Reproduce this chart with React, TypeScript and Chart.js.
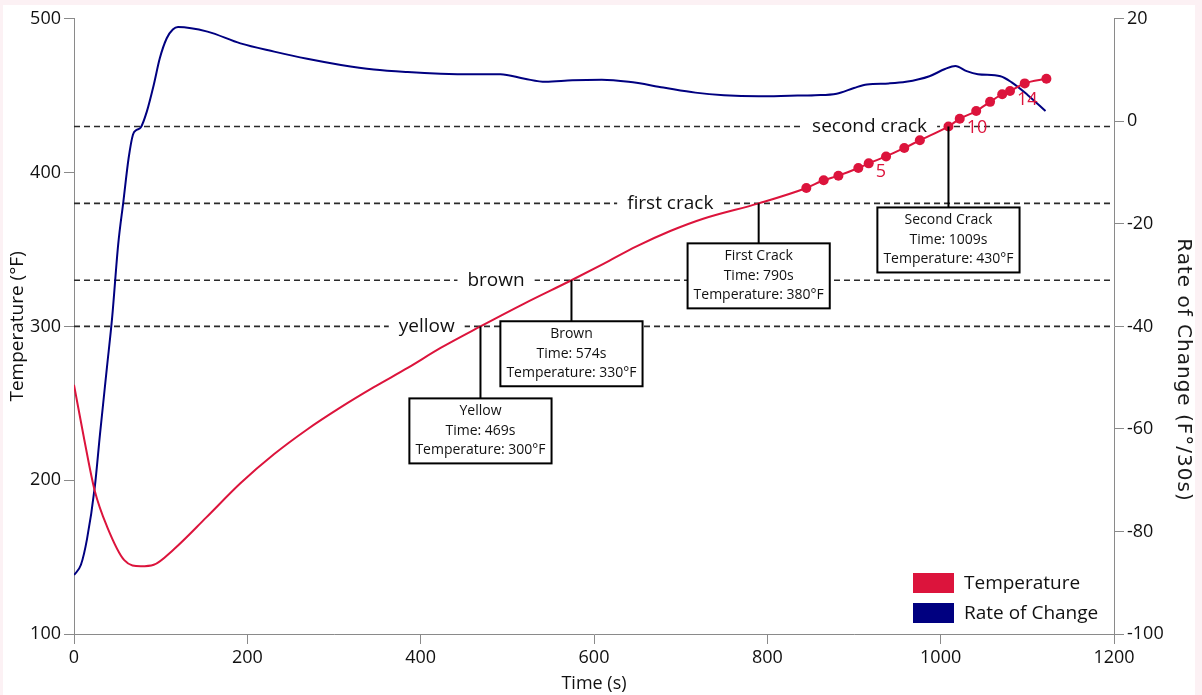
import { useEffect, useRef } from 'react';
import Chart from 'chart.js/auto';

// Bean temperature curve (°F) over roast time (s)
const tempTimes = [0, 12, 24, 38, 58, 77, 92, 115, 153, 192, 231, 269, 308, 346, 385, 423, 469, 520, 574, 612, 649, 688, 726, 790];
const tempValues = [262, 226, 193, 170, 148, 144, 145, 155, 176, 198, 217, 233, 247.5, 260.5, 273, 286, 300, 315, 330, 341, 352, 362, 370, 380];

// Logged sample points at the end of the roast (numbered 1..16)
const markerTimes = [845, 865, 882, 905, 917, 937, 958, 976, 1009, 1022, 1041, 1057, 1071, 1080, 1097, 1122];
const markerTemps = [390, 395, 398, 403, 406, 410.5, 416, 421, 430, 435, 440, 446, 451, 453, 458, 461];
const markerNumbered = [5, 10, 14];

// Rate of change (F°/30s)
const rateTimes = [0, 8, 15, 24, 30, 38, 44, 51, 57, 63, 68, 72, 77, 84, 92, 99, 107, 114, 120, 154, 192, 231, 269, 308, 346, 385, 423, 462, 492, 520, 544, 575, 609, 640, 680, 717, 750, 790, 826, 855, 880, 900, 915, 940, 960, 987, 1005, 1017, 1030, 1043, 1069, 1082, 1100, 1121];
const rateValues = [-88.5, -86.5, -81.5, -71.3, -61, -48, -38.3, -24, -15.6, -7.2, -2.6, -1.7, -1.2, 1.9, 7.1, 12.3, 16.2, 17.9, 18.4, 17.5, 15.2, 13.6, 12.2, 11.0, 10.1, 9.6, 9.3, 9.2, 9.2, 8.3, 7.7, 8.0, 8.1, 7.7, 6.6, 5.6, 5.1, 4.9, 5.0, 5.1, 5.4, 6.5, 7.2, 7.4, 7.7, 8.8, 10.2, 10.8, 9.8, 9.2, 8.8, 7.6, 5.2, 2.0];

// Roast events
const eventNames = ['Yellow', 'Brown', 'First Crack', 'Second Crack'];
const eventLineLabels = ['yellow', 'brown', 'first crack', 'second crack'];
const eventTimes = [469, 574, 790, 1009];
const eventTemps = [300, 330, 380, 430];

// Axis ticks
const xTicks = [0, 200, 400, 600, 800, 1000, 1200];
const tempTicks = [100, 200, 300, 400, 500];
const rateTicks = [-100, -80, -60, -40, -20, 0, 20];

const RED = '#dc143c';
const NAVY = '#000080';
const FONT = '"Open Sans", "Noto Sans", sans-serif';
const AXIS_GRAY = '#8a8a8a';
const RATE_TITLE = 'Rate of Change (F°/30s)';

// where the reference-line captions sit (in seconds) and how far each event box hangs below its point (px)
const LINE_LABEL_AT = [407, 487, 688, 918];
const BOX_DROP = [72, 41, 40, 81];

const overlayPlugin = {
  id: 'roastOverlay',
  beforeDatasetsDraw(chart: any) {
    const { ctx, chartArea, scales } = chart;
    const x = scales.x;
    const y = scales.y;
    ctx.save();
    eventTemps.forEach((t, i) => {
      const py = y.getPixelForValue(t);
      ctx.setLineDash([6, 4]);
      ctx.lineWidth = 1.6;
      ctx.strokeStyle = '#2a2a2a';
      ctx.beginPath();
      ctx.moveTo(chartArea.left, py);
      ctx.lineTo(chartArea.right, py);
      ctx.stroke();
      ctx.setLineDash([]);
      ctx.font = `19px ${FONT}`;
      const label = eventLineLabels[i];
      const w = ctx.measureText(label).width;
      const cx = x.getPixelForValue(LINE_LABEL_AT[i]);
      ctx.fillStyle = '#ffffff';
      ctx.fillRect(cx - w / 2 - 10, py - 12, w + 20, 24);
      ctx.fillStyle = '#111111';
      ctx.textAlign = 'center';
      ctx.textBaseline = 'middle';
      ctx.fillText(label, cx, py);
    });
    ctx.restore();
  },
  afterDatasetsDraw(chart: any) {
    const { ctx, chartArea, scales } = chart;
    const x = scales.x;
    const y = scales.y;
    ctx.save();
    // event call-out boxes
    eventTimes.forEach((tm, i) => {
      const px = x.getPixelForValue(tm);
      const py = y.getPixelForValue(eventTemps[i]);
      const top = py + BOX_DROP[i];
      const lines = [eventNames[i], `Time: ${tm}s`, `Temperature: ${eventTemps[i]}°F`];
      ctx.font = `14px ${FONT}`;
      const w = Math.max(...lines.map((l) => ctx.measureText(l).width)) + 12;
      const h = 65;
      ctx.strokeStyle = '#000';
      ctx.lineWidth = 2;
      ctx.beginPath();
      ctx.moveTo(px, py);
      ctx.lineTo(px, top);
      ctx.stroke();
      ctx.fillStyle = '#fff';
      ctx.fillRect(px - w / 2, top, w, h);
      ctx.strokeRect(px - w / 2, top, w, h);
      ctx.fillStyle = '#111';
      ctx.textAlign = 'center';
      ctx.textBaseline = 'middle';
      lines.forEach((l, k) => ctx.fillText(l, px, top + 13 + k * 19.5));
    });
    // numbered sample labels
    ctx.font = `18px ${FONT}`;
    ctx.fillStyle = RED;
    ctx.textAlign = 'left';
    ctx.textBaseline = 'middle';
    markerNumbered.forEach((n) => {
      const px = x.getPixelForValue(markerTimes[n - 1]);
      const py = y.getPixelForValue(markerTemps[n - 1]);
      ctx.fillText(String(n), px + 7, py + 9);
    });
    // legend in the lower right of the plot
    const lx = chartArea.right - 201;
    const ly = chartArea.bottom - 61;
    chart.data.datasets.forEach((ds: any, i: number) => {
      const by = ly + i * 30;
      ctx.fillStyle = ds.borderColor;
      ctx.fillRect(lx, by, 41, 20);
      ctx.fillStyle = '#111';
      ctx.font = `19px ${FONT}`;
      ctx.fillText(ds.label, lx + 51, by + 11);
    });
    ctx.restore();
  },
  afterDraw(chart: any) {
    // right-hand axis title, set in its own face
    const { ctx, width } = chart;
    ctx.save();
    ctx.translate(width - 12, 365);
    ctx.rotate(Math.PI / 2);
    ctx.font = '20px "DejaVu Sans", sans-serif';
    if ('letterSpacing' in ctx) (ctx as any).letterSpacing = '1px';
    ctx.fillStyle = '#1a1a1a';
    ctx.textAlign = 'center';
    ctx.textBaseline = 'middle';
    ctx.fillText(RATE_TITLE, 0, 0);
    ctx.restore();
  },
};

export default function App() {
  const canvasRef = useRef<HTMLCanvasElement | null>(null);

  useEffect(() => {
    if (!canvasRef.current) return;
    Chart.defaults.font.family = FONT;

    const tempPoints = [
      ...tempTimes.map((t, i) => ({ x: t, y: tempValues[i] })),
      ...markerTimes.map((t, i) => ({ x: t, y: markerTemps[i] })),
    ];
    const tempRadius = [...tempTimes.map(() => 0), ...markerTimes.map(() => 5)];
    const ratePoints = rateTimes.map((t, i) => ({ x: t, y: rateValues[i] }));

    const tickScale = (ticks: number[]) => ({
      afterBuildTicks: (scale: any) => {
        scale.ticks = ticks.map((v) => ({ value: v }));
      },
    });

    const chart = new Chart(canvasRef.current, {
      type: 'line',
      data: {
        datasets: [
          {
            label: 'Temperature',
            data: tempPoints,
            borderColor: RED,
            backgroundColor: RED,
            borderWidth: 2,
            pointRadius: tempRadius,
            pointHoverRadius: tempRadius,
            pointBackgroundColor: RED,
            pointBorderWidth: 0,
            cubicInterpolationMode: 'monotone',
            yAxisID: 'y',
          },
          {
            label: 'Rate of Change',
            data: ratePoints,
            borderColor: NAVY,
            backgroundColor: NAVY,
            borderWidth: 2,
            pointRadius: 0,
            cubicInterpolationMode: 'monotone',
            yAxisID: 'y1',
          },
        ],
      },
      options: {
        responsive: false,
        animation: false,
        devicePixelRatio: 1,
        layout: { padding: { top: 12, left: 0, right: 0, bottom: 0 } },
        plugins: { legend: { display: false }, tooltip: { enabled: false } },
        scales: {
          x: {
            type: 'linear',
            min: 0,
            max: 1200,
            ...tickScale(xTicks),
            afterFit: (s: any) => { s.height = 61; },
            grid: { drawOnChartArea: false, drawTicks: true, tickLength: 10, color: AXIS_GRAY },
            border: { display: true, color: AXIS_GRAY, width: 1 },
            ticks: { color: '#111', font: { size: 18 }, padding: 3, maxRotation: 0, callback: (v: any) => String(v) },
            title: { display: true, text: 'Time (s)', color: '#111', font: { size: 18 }, padding: { top: 0, bottom: 0 } },
          },
          y: {
            type: 'linear',
            position: 'left',
            min: 100,
            max: 500,
            ...tickScale(tempTicks),
            afterFit: (s: any) => { s.width = 71; },
            grid: { drawOnChartArea: false, drawTicks: true, tickLength: 10, color: AXIS_GRAY },
            border: { display: true, color: AXIS_GRAY, width: 1 },
            ticks: { color: '#111', font: { size: 18 }, padding: 3, callback: (v: any) => String(v) },
            title: { display: true, text: 'Temperature (°F)', color: '#111', font: { size: 19 }, padding: { top: 3, bottom: 0 } },
          },
          y1: {
            type: 'linear',
            position: 'right',
            min: -100,
            max: 20,
            ...tickScale(rateTicks),
            afterFit: (s: any) => { s.width = 81; },
            grid: { drawOnChartArea: false, drawTicks: true, tickLength: 10, color: AXIS_GRAY },
            border: { display: true, color: AXIS_GRAY, width: 1 },
            ticks: { color: '#111', font: { size: 18 }, padding: 3, callback: (v: any) => String(v) },
            title: { display: false, text: RATE_TITLE },
          },
        },
      },
      plugins: [overlayPlugin],
    } as any);

    return () => chart.destroy();
  }, []);

  return (
    <div style={{ position: 'fixed', inset: 0, background: '#fcf1f4' }}>
      <div style={{ position: 'absolute', left: 3, top: 5, width: 1192, height: 690, background: '#ffffff' }}>
        <canvas ref={canvasRef} width={1192} height={690} style={{ display: 'block' }} />
      </div>
    </div>
  );
}
